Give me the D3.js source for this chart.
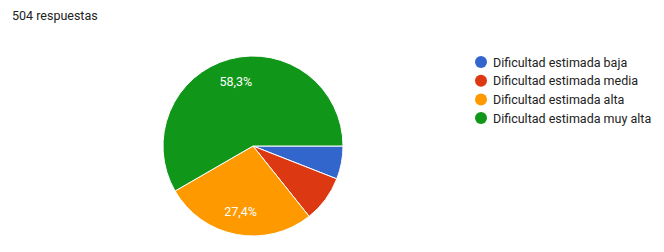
<!DOCTYPE html>
<html>
<head>
<meta charset="utf-8">
<script src="https://cdn.jsdelivr.net/npm/d3@7"></script>
<style>
  body { margin: 0; background: #fff; }
  text { font-family: Roboto, Arial, sans-serif; }
</style>
</head>
<body>
<div id="main"></div>
<script>
// data (504 answers)
const categories = ['Dificultad estimada baja', 'Dificultad estimada media', 'Dificultad estimada alta', 'Dificultad estimada muy alta'];
const counts = [30, 42, 138, 294];
const colors = ['#3366cc', '#dc3912', '#ff9900', '#109618'];
const totalLabel = '504 respuestas';

const w = 664, h = 252;
const cx = 253, cy = 146, r = 90;

const svg = d3.select('#main').append('svg')
    .attr('width', w)
    .attr('height', h);

svg.append('text')
    .attr('x', 12)
    .attr('y', 20)
    .attr('font-size', 12.5)
    .attr('fill', '#202124')
    .text(totalLabel);

const total = d3.sum(counts);
const pie = d3.pie()
    .sort(null)
    .startAngle(Math.PI / 2)
    .endAngle(Math.PI / 2 + 2 * Math.PI);

const arcs = pie(counts);
const arc = d3.arc().innerRadius(0).outerRadius(r);
const labelArc = d3.arc().innerRadius(r * 0.74).outerRadius(r * 0.74);

const g = svg.append('g').attr('transform', `translate(${cx},${cy})`);

g.selectAll('path')
    .data(arcs)
    .enter()
    .append('path')
    .attr('d', arc)
    .attr('fill', (d, i) => colors[i])
    .attr('stroke', '#fff')
    .attr('stroke-width', 1);

// only the big slices get a percent label
g.selectAll('text.pct')
    .data(arcs.filter(d => d.value / total > 0.1))
    .enter()
    .append('text')
    .attr('class', 'pct')
    .attr('transform', d => `translate(${labelArc.centroid(d)})`)
    .attr('text-anchor', 'middle')
    .attr('dy', '0.36em')
    .attr('font-size', 12.5)
    .attr('fill', '#fff')
    .text(d => (Math.round(d.value / total * 1000) / 10).toFixed(1).replace('.', ',') + '%');

// legend
const legend = svg.append('g').attr('transform', 'translate(481,62)');
const rows = legend.selectAll('g')
    .data(categories)
    .enter()
    .append('g')
    .attr('transform', (d, i) => `translate(0,${i * 18.7})`);

rows.append('circle')
    .attr('r', 6)
    .attr('fill', (d, i) => colors[i]);

rows.append('text')
    .attr('x', 12)
    .attr('dy', '0.36em')
    .attr('font-size', 12.5)
    .attr('fill', '#222')
    .text(d => d);
</script>
</body>
</html>
